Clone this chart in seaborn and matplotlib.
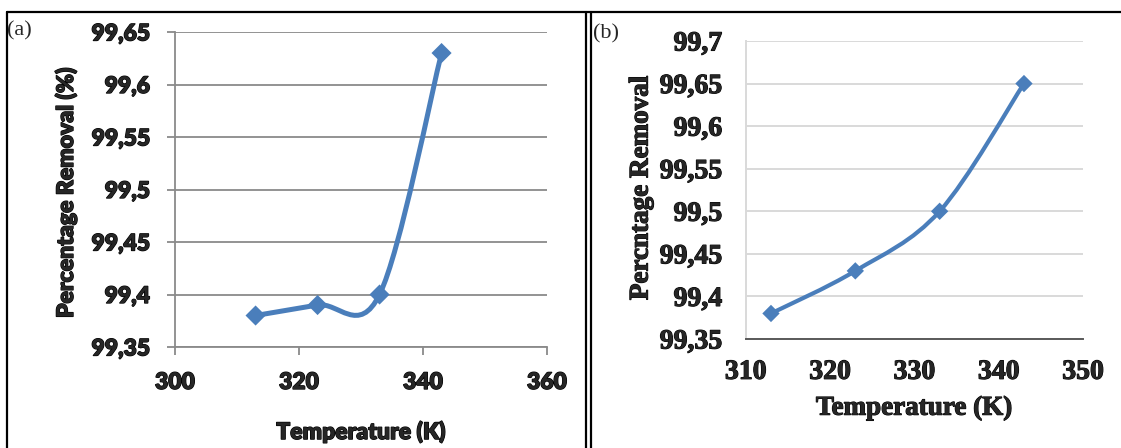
import matplotlib
matplotlib.use("Agg")
import matplotlib.pyplot as plt
import matplotlib.patheffects as pe
from matplotlib.path import Path
from matplotlib.patches import PathPatch
from matplotlib.lines import Line2D
import seaborn as sns
import pandas as pd

# ---- data -------------------------------------------------------------
temp_a = [313, 323, 333, 343]
removal_a = [99.38, 99.39, 99.40, 99.63]

temp_b = [313, 323, 333, 343]
removal_b = [99.38, 99.43, 99.50, 99.65]

xticks_a = [300, 320, 340, 360]
yticks_a = [99.35, 99.40, 99.45, 99.50, 99.55, 99.60, 99.65]
yticklabels_a = ["99,35", "99,4", "99,45", "99,5", "99,55", "99,6", "99,65"]

xticks_b = [310, 320, 330, 340, 350]
yticks_b = [99.35, 99.40, 99.45, 99.50, 99.55, 99.60, 99.65, 99.70]
yticklabels_b = ["99,35", "99,4", "99,45", "99,5", "99,55", "99,6", "99,65", "99,7"]

LINE_COLOR = "#4a7ebb"

sns.set_theme(style="white")
plt.rcParams["font.family"] = ["Lato", "DejaVu Sans"]

# slightly heavier glyphs for the bold labels
heavy = [pe.withStroke(linewidth=0.9, foreground="black")]
heavy_b = [pe.withStroke(linewidth=0.8, foreground="black")]


def smooth_path(xs, ys):
    """Bezier path through the points (Catmull-Rom style smoothed line)."""
    pts = list(zip(xs, ys))
    n = len(pts)
    verts = [pts[0]]
    codes = [Path.MOVETO]
    for i in range(n - 1):
        p0 = pts[i - 1] if i > 0 else pts[i]
        p1 = pts[i]
        p2 = pts[i + 1]
        p3 = pts[i + 2] if i + 2 < n else pts[i + 1]
        c1 = (p1[0] + (p2[0] - p0[0]) / 6.0, p1[1] + (p2[1] - p0[1]) / 6.0)
        c2 = (p2[0] - (p3[0] - p1[0]) / 6.0, p2[1] - (p3[1] - p1[1]) / 6.0)
        verts += [c1, c2, p2]
        codes += [Path.CURVE4] * 3
    return Path(verts, codes)


fig = plt.figure(figsize=(11.21, 4.48), dpi=100)

# ---- panel (a) ---------------------------------------------------------
ax_a = fig.add_axes([0.1561, 0.2254, 0.3318, 0.7031])
df_a = pd.DataFrame({"T": temp_a, "R": removal_a})
ax_a.add_patch(PathPatch(smooth_path(temp_a, removal_a), facecolor="none",
                         edgecolor=LINE_COLOR, lw=3.6, capstyle="round",
                         joinstyle="round", zorder=3))
sns.scatterplot(data=df_a, x="T", y="R", marker="D", s=105, color=LINE_COLOR,
                edgecolor="none", zorder=4, ax=ax_a, clip_on=False)
ax_a.set_xlim(300, 360)
ax_a.set_ylim(99.35, 99.65)
ax_a.set_xticks(xticks_a)
ax_a.set_xticklabels([str(t) for t in xticks_a])
ax_a.set_yticks(yticks_a)
ax_a.set_yticklabels(yticklabels_a)
ax_a.yaxis.grid(True, color="#8a8a8a", lw=1.3)
ax_a.xaxis.grid(False)
for s in ("top", "right"):
    ax_a.spines[s].set_visible(False)
for s in ("left", "bottom"):
    ax_a.spines[s].set_color("#8a8a8a")
    ax_a.spines[s].set_linewidth(1.3)
ax_a.tick_params(axis="both", which="major", direction="out", length=6,
                 width=1.3, color="#8a8a8a", labelsize=16.5, pad=12,
                 left=True, bottom=True)
for lab in ax_a.get_xticklabels() + ax_a.get_yticklabels():
    lab.set_fontweight("heavy")
    lab.set_path_effects(heavy)
ax_a.set_xlabel("Temperature (K)", fontsize=16.5, fontweight="heavy", va="center",
                path_effects=heavy)
ax_a.set_ylabel("Percentage Removal (%)", fontsize=16.5, fontweight="heavy", va="center",
                path_effects=heavy)
ax_a.xaxis.set_label_coords(0.5, -0.27)
ax_a.yaxis.set_label_coords(-0.293, 0.49)

# ---- panel (b) ---------------------------------------------------------
serif = ["Liberation Serif", "DejaVu Serif"]
ax_b = fig.add_axes([0.6652, 0.2433, 0.3009, 0.6652])
df_b = pd.DataFrame({"T": temp_b, "R": removal_b})
ax_b.add_patch(PathPatch(smooth_path(temp_b, removal_b), facecolor="none",
                         edgecolor=LINE_COLOR, lw=3.0, capstyle="round",
                         joinstyle="round", zorder=3))
sns.scatterplot(data=df_b, x="T", y="R", marker="D", s=78, color=LINE_COLOR,
                edgecolor="none", zorder=4, ax=ax_b, clip_on=False)
ax_b.set_xlim(310, 350)
ax_b.set_ylim(99.35, 99.70)
ax_b.set_xticks(xticks_b)
ax_b.set_xticklabels([str(t) for t in xticks_b])
ax_b.set_yticks(yticks_b)
ax_b.set_yticklabels(yticklabels_b)
ax_b.yaxis.grid(True, color="#d9d9d9", lw=1.4)
ax_b.xaxis.grid(False)
for s in ("top", "right"):
    ax_b.spines[s].set_visible(False)
ax_b.spines["left"].set_color("#d9d9d9")
ax_b.spines["left"].set_linewidth(1.4)
ax_b.spines["bottom"].set_color("#595959")
ax_b.spines["bottom"].set_linewidth(1.4)
ax_b.tick_params(axis="both", which="major", length=0, labelsize=20)
ax_b.tick_params(axis="y", pad=17)
ax_b.tick_params(axis="x", pad=15)
for lab in ax_b.get_xticklabels() + ax_b.get_yticklabels():
    lab.set_family(serif)
    lab.set_fontweight("bold")
    lab.set_path_effects(heavy_b)
ax_b.set_xlabel("Temperature (K)", fontsize=19.5, fontweight="bold", family=serif,
                va="center", path_effects=heavy_b)
ax_b.set_ylabel("Percntage Removal", fontsize=19.5, fontweight="bold", family=serif,
                va="center", path_effects=heavy_b)
ax_b.xaxis.set_label_coords(0.5, -0.232)
ax_b.yaxis.set_label_coords(-0.31, 0.507)

# ---- panel letters and table frame ------------------------------------
fig.text(7 / 1121, 1 - 31 / 448, "(a)", fontsize=16, family=serif, va="center", ha="left")
fig.text(593 / 1121, 1 - 34 / 448, "(b)", fontsize=16, family=serif, va="center", ha="left")

frame_kw = dict(color="black", lw=1.6, transform=fig.transFigure)
y_top = 1 - 12 / 448
fig.add_artist(Line2D([7 / 1121, 1], [y_top, y_top], **frame_kw))
fig.add_artist(Line2D([7 / 1121, 7 / 1121], [0, y_top], **frame_kw))
fig.add_artist(Line2D([586 / 1121, 586 / 1121], [0, y_top], **frame_kw))
fig.add_artist(Line2D([591 / 1121, 591 / 1121], [0, y_top], **frame_kw))

fig.savefig("out.png", dpi=100)
